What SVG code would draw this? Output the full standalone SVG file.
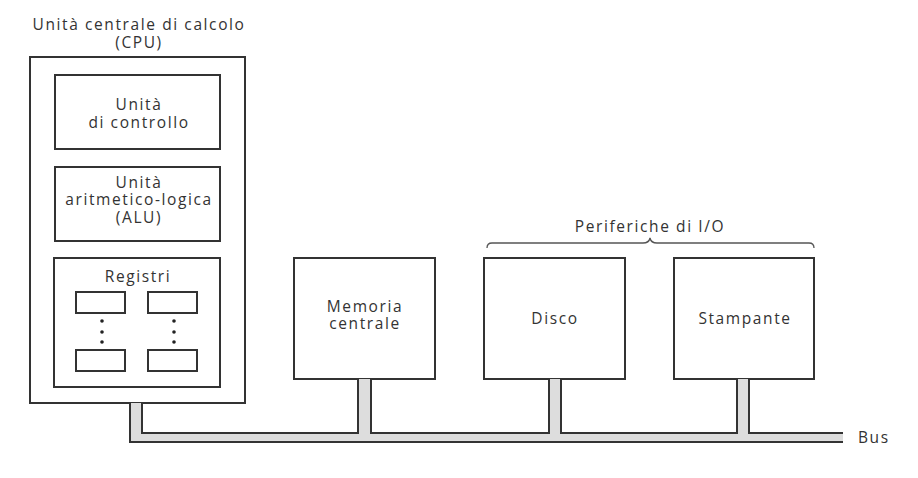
<svg xmlns="http://www.w3.org/2000/svg" width="918" height="478" viewBox="0 0 918 478">
<style>
.box{fill:#fff;stroke:#333;stroke-width:2}
.reg{fill:#fff;stroke:#333;stroke-width:2}
.t{font-family:"Open Sans","DejaVu Sans",sans-serif;font-size:15.5px;letter-spacing:1.6px;fill:#333;text-anchor:middle}
.bus{fill:none;stroke:#333;stroke-width:2}
.brace{fill:none;stroke:#555;stroke-width:1.3}
</style>
<rect width="918" height="478" fill="#fff"/>
<g id="cpu">
<text class="t" x="139" y="30">Unità centrale di calcolo</text>
<text class="t" x="139" y="48">(CPU)</text>
<rect class="box" x="30" y="57" width="215" height="346"/>
</g>
<g id="control">
<rect class="box" x="55" y="75" width="165" height="74"/>
<text class="t" x="139" y="110">Unità</text>
<text class="t" x="139" y="128">di controllo</text>
</g>
<g id="alu">
<rect class="box" x="55" y="167" width="165" height="74"/>
<text class="t" x="139" y="188">Unità</text>
<text class="t" x="139" y="205">aritmetico-logica</text>
<text class="t" x="139" y="223">(ALU)</text>
</g>
<g id="registri">
<rect class="box" x="54" y="258" width="166" height="129"/>
<text class="t" x="138" y="282">Registri</text>
<rect class="reg" x="76" y="292" width="49" height="21"/>
<rect class="reg" x="148" y="292" width="49" height="21"/>
<rect class="reg" x="76" y="350" width="49" height="21"/>
<rect class="reg" x="148" y="350" width="49" height="21"/>
<g fill="#222">
<circle cx="102" cy="321" r="1.8"/><circle cx="102" cy="332" r="1.8"/><circle cx="102" cy="342" r="1.8"/>
<circle cx="174" cy="321" r="1.8"/><circle cx="174" cy="332" r="1.8"/><circle cx="174" cy="342" r="1.8"/>
</g>
</g>
<g id="memoria">
<rect class="box" x="294" y="258" width="141" height="121"/>
<text class="t" x="365" y="312">Memoria</text>
<text class="t" x="365" y="329">centrale</text>
</g>
<g id="disco">
<rect class="box" x="484" y="258" width="141" height="121"/>
<text class="t" x="555" y="324">Disco</text>
</g>
<g id="stampante">
<rect class="box" x="674" y="258" width="140" height="121"/>
<text class="t" x="745" y="324">Stampante</text>
</g>
<g id="periferiche">
<text class="t" x="650" y="232">Periferiche di I/O</text>
<path class="brace" d="M487,248 Q487,243 492,243 H643 Q649,243 650,238 Q651,243 657,243 H809 Q814,243 814,248"/>
</g>
<g id="connectors">
<path fill="#ddd" d="M130,403 H142 V433 H358 V379 H371 V433 H549 V379 H561 V433 H737 V379 H749 V433 H843 V442 H130 Z"/>
<path class="bus" d="M130,403 V442 H843"/>
<path class="bus" d="M142,403 V433 H358 V379"/>
<path class="bus" d="M371,379 V433 H549 V379"/>
<path class="bus" d="M561,379 V433 H737 V379"/>
<path class="bus" d="M749,379 V433 H843"/>
<text class="t" x="858" y="443" style="text-anchor:start">Bus</text>
</g>
</svg>
